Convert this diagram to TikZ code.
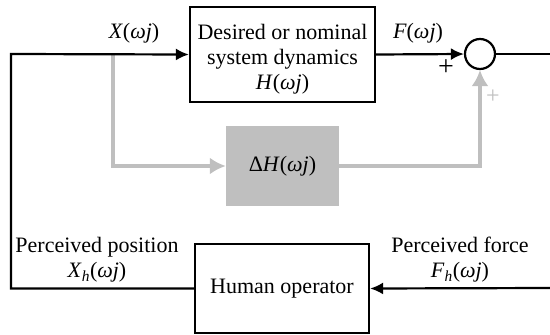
\documentclass[tikz,border=0pt]{standalone}
\usepackage{fontspec}
\setmainfont{Liberation Serif}
\usetikzlibrary{arrows.meta,positioning}

\definecolor{lightgray}{RGB}{191,191,191}
\newcommand{\iv}[1]{\textit{#1}}

\begin{document}
\begin{tikzpicture}[x=1pt, y=-1pt, every node/.style={font=\fontsize{22}{25}\selectfont},
	block/.style={draw, line width=2.2pt, minimum width=185pt, minimum height=95pt, align=center, inner sep=2pt},
	sig/.style={line width=2.2pt, -{Latex[length=13pt,width=12pt]}},
	gsig/.style={lightgray, line width=4pt, -{Latex[length=16pt,width=17pt]}}]
	\useasboundingbox (0,0) rectangle (550,335);
	% blocks
	\node[block] (sys) at (282.5,54.5) {\rule{0pt}{24pt}Desired or nominal\\system dynamics\\\iv{H}(\iv{ωj})};
	\node[draw, circle, line width=2.2pt, minimum size=30pt, inner sep=0pt] (sum) at (480,54) {};
	\node[fill=lightgray, minimum width=113pt, minimum height=80pt] (dH) at (282.5,166) {Δ\iv{H}(\iv{ωj})};
	\node[block, minimum width=174pt, minimum height=89pt] (human) at (282,288.5) {Human operator};
	% corners and free ends
	\coordinate (corner) at (11,54);
	\coordinate (branch) at (113,54);
	\coordinate (out) at (550,54);
	\coordinate (fb) at (550,288);
	% connectors
	\draw[gsig] (branch) |- (dH.west);
	\draw[gsig] (dH.east) -| (sum.south);
	\draw[sig] (human.west) -| (corner) -- (sys.west);
	\draw[sig] (sys.east) -- (sum.west);
	\draw[line width=2.2pt] (sum.east) -- (out);
	\draw[sig] (fb) -- (human.east);
	% labels
	\node (xlab) at (134,33) {\iv{X}(\iv{ωj})};
	\node (flab) at (418,33) {\iv{F}(\iv{ωj})};
	\node[font=\fontsize{28}{30}\selectfont] (plus1) at (446,68) {+};
	\node[lightgray, font=\fontsize{24}{26}\selectfont] (plus2) at (493,97) {+};
	\node[align=center] (ppos) at (97,260) {Perceived position\\\iv{X}\textsubscript{\iv{h}}(\iv{ωj})};
	\node[align=center] (pfor) at (460,260) {Perceived force\\\iv{F}\textsubscript{\iv{h}}(\iv{ωj})};
\end{tikzpicture}
\end{document}
